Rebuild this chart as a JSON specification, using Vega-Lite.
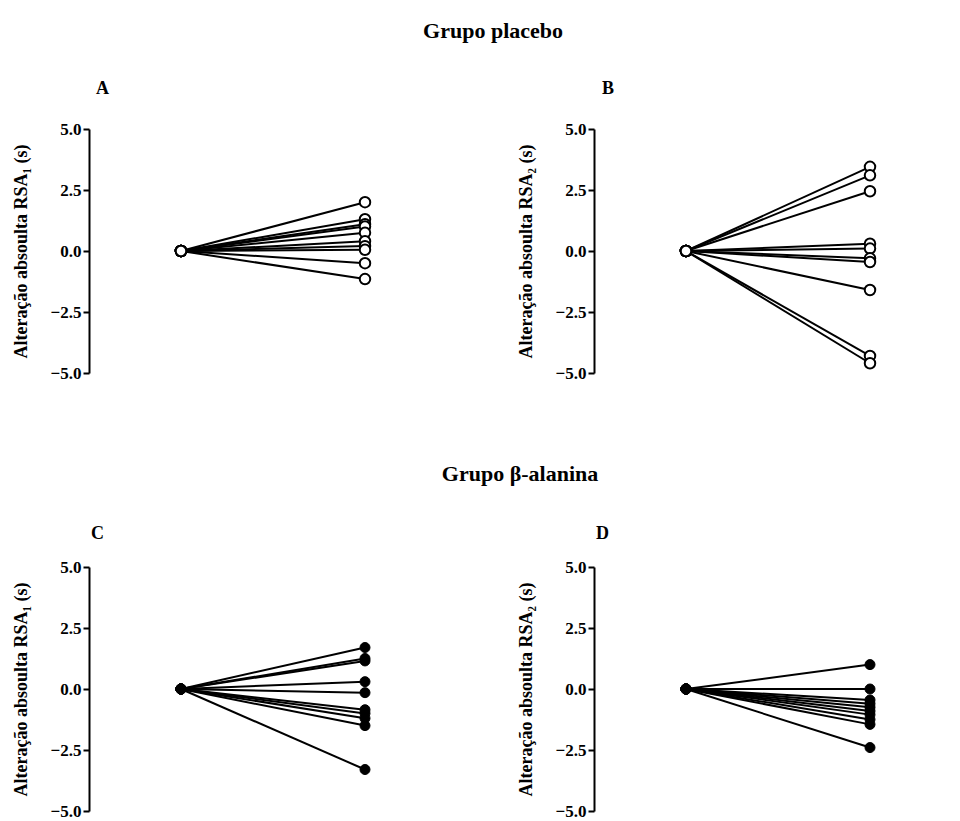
{
  "$schema": "https://vega.github.io/schema/vega-lite/v6.json",
  "background": "white",
  "padding": {"left": 12, "top": 20, "right": 0, "bottom": 0},
  "config": {
    "font": "Liberation Serif",
    "view": {"stroke": null},
    "concat": {"spacing": 60},
    "title": {"font": "Liberation Serif", "fontWeight": "bold", "color": "black"}
  },
  "datasets": {
    "d": [
      {"panel": "A", "id": 1, "t": 1, "v": 0}, {"panel": "A", "id": 1, "t": 3, "v": 2.0},
      {"panel": "A", "id": 2, "t": 1, "v": 0}, {"panel": "A", "id": 2, "t": 3, "v": 1.3},
      {"panel": "A", "id": 3, "t": 1, "v": 0}, {"panel": "A", "id": 3, "t": 3, "v": 1.1},
      {"panel": "A", "id": 4, "t": 1, "v": 0}, {"panel": "A", "id": 4, "t": 3, "v": 1.0},
      {"panel": "A", "id": 5, "t": 1, "v": 0}, {"panel": "A", "id": 5, "t": 3, "v": 0.75},
      {"panel": "A", "id": 6, "t": 1, "v": 0}, {"panel": "A", "id": 6, "t": 3, "v": 0.4},
      {"panel": "A", "id": 7, "t": 1, "v": 0}, {"panel": "A", "id": 7, "t": 3, "v": 0.2},
      {"panel": "A", "id": 8, "t": 1, "v": 0}, {"panel": "A", "id": 8, "t": 3, "v": 0.05},
      {"panel": "A", "id": 9, "t": 1, "v": 0}, {"panel": "A", "id": 9, "t": 3, "v": -0.5},
      {"panel": "A", "id": 10, "t": 1, "v": 0}, {"panel": "A", "id": 10, "t": 3, "v": -1.15},
      {"panel": "B", "id": 1, "t": 1, "v": 0}, {"panel": "B", "id": 1, "t": 3, "v": 3.45},
      {"panel": "B", "id": 2, "t": 1, "v": 0}, {"panel": "B", "id": 2, "t": 3, "v": 3.1},
      {"panel": "B", "id": 3, "t": 1, "v": 0}, {"panel": "B", "id": 3, "t": 3, "v": 2.45},
      {"panel": "B", "id": 4, "t": 1, "v": 0}, {"panel": "B", "id": 4, "t": 3, "v": 0.3},
      {"panel": "B", "id": 5, "t": 1, "v": 0}, {"panel": "B", "id": 5, "t": 3, "v": 0.1},
      {"panel": "B", "id": 6, "t": 1, "v": 0}, {"panel": "B", "id": 6, "t": 3, "v": -0.3},
      {"panel": "B", "id": 7, "t": 1, "v": 0}, {"panel": "B", "id": 7, "t": 3, "v": -0.45},
      {"panel": "B", "id": 8, "t": 1, "v": 0}, {"panel": "B", "id": 8, "t": 3, "v": -1.6},
      {"panel": "B", "id": 9, "t": 1, "v": 0}, {"panel": "B", "id": 9, "t": 3, "v": -4.3},
      {"panel": "B", "id": 10, "t": 1, "v": 0}, {"panel": "B", "id": 10, "t": 3, "v": -4.6},
      {"panel": "C", "id": 1, "t": 1, "v": 0}, {"panel": "C", "id": 1, "t": 3, "v": 1.7},
      {"panel": "C", "id": 2, "t": 1, "v": 0}, {"panel": "C", "id": 2, "t": 3, "v": 1.25},
      {"panel": "C", "id": 3, "t": 1, "v": 0}, {"panel": "C", "id": 3, "t": 3, "v": 1.15},
      {"panel": "C", "id": 4, "t": 1, "v": 0}, {"panel": "C", "id": 4, "t": 3, "v": 0.3},
      {"panel": "C", "id": 5, "t": 1, "v": 0}, {"panel": "C", "id": 5, "t": 3, "v": -0.15},
      {"panel": "C", "id": 6, "t": 1, "v": 0}, {"panel": "C", "id": 6, "t": 3, "v": -0.85},
      {"panel": "C", "id": 7, "t": 1, "v": 0}, {"panel": "C", "id": 7, "t": 3, "v": -1.0},
      {"panel": "C", "id": 8, "t": 1, "v": 0}, {"panel": "C", "id": 8, "t": 3, "v": -1.2},
      {"panel": "C", "id": 9, "t": 1, "v": 0}, {"panel": "C", "id": 9, "t": 3, "v": -1.5},
      {"panel": "C", "id": 10, "t": 1, "v": 0}, {"panel": "C", "id": 10, "t": 3, "v": -3.3},
      {"panel": "D", "id": 1, "t": 1, "v": 0}, {"panel": "D", "id": 1, "t": 3, "v": 1.0},
      {"panel": "D", "id": 2, "t": 1, "v": 0}, {"panel": "D", "id": 2, "t": 3, "v": 0.0},
      {"panel": "D", "id": 3, "t": 1, "v": 0}, {"panel": "D", "id": 3, "t": 3, "v": -0.45},
      {"panel": "D", "id": 4, "t": 1, "v": 0}, {"panel": "D", "id": 4, "t": 3, "v": -0.6},
      {"panel": "D", "id": 5, "t": 1, "v": 0}, {"panel": "D", "id": 5, "t": 3, "v": -0.75},
      {"panel": "D", "id": 6, "t": 1, "v": 0}, {"panel": "D", "id": 6, "t": 3, "v": -0.9},
      {"panel": "D", "id": 7, "t": 1, "v": 0}, {"panel": "D", "id": 7, "t": 3, "v": -1.05},
      {"panel": "D", "id": 8, "t": 1, "v": 0}, {"panel": "D", "id": 8, "t": 3, "v": -1.25},
      {"panel": "D", "id": 9, "t": 1, "v": 0}, {"panel": "D", "id": 9, "t": 3, "v": -1.45},
      {"panel": "D", "id": 10, "t": 1, "v": 0}, {"panel": "D", "id": 10, "t": 3, "v": -2.4}
    ]
  },
  "vconcat": [
    {
      "title": {"text": "Grupo placebo", "fontSize": 22, "anchor": "middle", "offset": 37, "dx": 6},
      "hconcat": [
        {
          "width": 368, "height": 244,
          "title": {"text": "A", "fontSize": 18, "anchor": "start", "frame": "group", "dx": 7, "offset": 22},
          "data": {"name": "d"},
          "transform": [{"filter": "datum.panel === 'A'"}],
          "layer": [
            {"mark": {"type": "rule", "strokeDash": [2, 2], "strokeWidth": 1, "color": "#333"}, "encoding": {"y": {"datum": 0, "type": "quantitative"}}},
            {"mark": {"type": "line", "color": "black", "strokeWidth": 2},
             "encoding": {"x": {"field": "t", "type": "quantitative"}, "y": {"field": "v", "type": "quantitative"}, "detail": {"field": "id"}}},
            {"mark": {"type": "point", "shape": "circle", "filled": true, "fill": "white", "stroke": "black", "strokeWidth": 2, "size": 110, "opacity": 1},
             "encoding": {"x": {"field": "t", "type": "quantitative"}, "y": {"field": "v", "type": "quantitative"}}}
          ],
          "encoding": {
            "x": {"field": "t", "type": "quantitative", "scale": {"domain": [0, 4], "nice": false}, "axis": null},
            "y": {"field": "v", "type": "quantitative", "scale": {"domain": [-5, 5], "nice": false},
              "axis": {"title": "Alteração absoulta RSA₁ (s)", "values": [-5, -2.5, 0, 2.5, 5], "format": ".1f", "grid": false,
                "domainColor": "black", "domainWidth": 2, "tickColor": "black", "tickWidth": 2, "tickSize": 6,
                "labelFont": "Liberation Serif", "labelFontWeight": "bold", "labelFontSize": 17, "labelColor": "black", "labelPadding": 2,
                "titleFont": "Liberation Serif", "titleFontWeight": "bold", "titleFontSize": 18, "titleColor": "black", "titlePadding": 20}}
          }
        },
        {
          "width": 368, "height": 244,
          "title": {"text": "B", "fontSize": 18, "anchor": "start", "frame": "group", "dx": 8, "offset": 22},
          "data": {"name": "d"},
          "transform": [{"filter": "datum.panel === 'B'"}],
          "layer": [
            {"mark": {"type": "rule", "strokeDash": [2, 2], "strokeWidth": 1, "color": "#333"}, "encoding": {"y": {"datum": 0, "type": "quantitative"}}},
            {"mark": {"type": "line", "color": "black", "strokeWidth": 2},
             "encoding": {"x": {"field": "t", "type": "quantitative"}, "y": {"field": "v", "type": "quantitative"}, "detail": {"field": "id"}}},
            {"mark": {"type": "point", "shape": "circle", "filled": true, "fill": "white", "stroke": "black", "strokeWidth": 2, "size": 110, "opacity": 1},
             "encoding": {"x": {"field": "t", "type": "quantitative"}, "y": {"field": "v", "type": "quantitative"}}}
          ],
          "encoding": {
            "x": {"field": "t", "type": "quantitative", "scale": {"domain": [0, 4], "nice": false}, "axis": null},
            "y": {"field": "v", "type": "quantitative", "scale": {"domain": [-5, 5], "nice": false},
              "axis": {"title": "Alteração absoulta RSA₂ (s)", "values": [-5, -2.5, 0, 2.5, 5], "format": ".1f", "grid": false,
                "domainColor": "black", "domainWidth": 2, "tickColor": "black", "tickWidth": 2, "tickSize": 6,
                "labelFont": "Liberation Serif", "labelFontWeight": "bold", "labelFontSize": 17, "labelColor": "black", "labelPadding": 2,
                "titleFont": "Liberation Serif", "titleFontWeight": "bold", "titleFontSize": 18, "titleColor": "black", "titlePadding": 20}}
          }
        }
      ]
    },
    {
      "title": {"text": "Grupo β-alanina", "fontSize": 22, "anchor": "middle", "offset": 39, "dx": 33},
      "hconcat": [
        {
          "width": 368, "height": 244,
          "title": {"text": "C", "fontSize": 18, "anchor": "start", "frame": "group", "dx": 2, "offset": 15},
          "data": {"name": "d"},
          "transform": [{"filter": "datum.panel === 'C'"}],
          "layer": [
            {"mark": {"type": "rule", "strokeDash": [2, 2], "strokeWidth": 1, "color": "#333"}, "encoding": {"y": {"datum": 0, "type": "quantitative"}}},
            {"mark": {"type": "line", "color": "black", "strokeWidth": 2},
             "encoding": {"x": {"field": "t", "type": "quantitative"}, "y": {"field": "v", "type": "quantitative"}, "detail": {"field": "id"}}},
            {"mark": {"type": "point", "shape": "circle", "filled": true, "fill": "black", "stroke": "black", "strokeWidth": 1, "size": 100, "opacity": 1},
             "encoding": {"x": {"field": "t", "type": "quantitative"}, "y": {"field": "v", "type": "quantitative"}}}
          ],
          "encoding": {
            "x": {"field": "t", "type": "quantitative", "scale": {"domain": [0, 4], "nice": false}, "axis": null},
            "y": {"field": "v", "type": "quantitative", "scale": {"domain": [-5, 5], "nice": false},
              "axis": {"title": "Alteração absoulta RSA₁ (s)", "values": [-5, -2.5, 0, 2.5, 5], "format": ".1f", "grid": false,
                "domainColor": "black", "domainWidth": 2, "tickColor": "black", "tickWidth": 2, "tickSize": 6,
                "labelFont": "Liberation Serif", "labelFontWeight": "bold", "labelFontSize": 17, "labelColor": "black", "labelPadding": 2,
                "titleFont": "Liberation Serif", "titleFontWeight": "bold", "titleFontSize": 18, "titleColor": "black", "titlePadding": 20}}
          }
        },
        {
          "width": 368, "height": 244,
          "title": {"text": "D", "fontSize": 18, "anchor": "start", "frame": "group", "dx": 2, "offset": 15},
          "data": {"name": "d"},
          "transform": [{"filter": "datum.panel === 'D'"}],
          "layer": [
            {"mark": {"type": "rule", "strokeDash": [2, 2], "strokeWidth": 1, "color": "#333"}, "encoding": {"y": {"datum": 0, "type": "quantitative"}}},
            {"mark": {"type": "line", "color": "black", "strokeWidth": 2},
             "encoding": {"x": {"field": "t", "type": "quantitative"}, "y": {"field": "v", "type": "quantitative"}, "detail": {"field": "id"}}},
            {"mark": {"type": "point", "shape": "circle", "filled": true, "fill": "black", "stroke": "black", "strokeWidth": 1, "size": 100, "opacity": 1},
             "encoding": {"x": {"field": "t", "type": "quantitative"}, "y": {"field": "v", "type": "quantitative"}}}
          ],
          "encoding": {
            "x": {"field": "t", "type": "quantitative", "scale": {"domain": [0, 4], "nice": false}, "axis": null},
            "y": {"field": "v", "type": "quantitative", "scale": {"domain": [-5, 5], "nice": false},
              "axis": {"title": "Alteração absoulta RSA₂ (s)", "values": [-5, -2.5, 0, 2.5, 5], "format": ".1f", "grid": false,
                "domainColor": "black", "domainWidth": 2, "tickColor": "black", "tickWidth": 2, "tickSize": 6,
                "labelFont": "Liberation Serif", "labelFontWeight": "bold", "labelFontSize": 17, "labelColor": "black", "labelPadding": 2,
                "titleFont": "Liberation Serif", "titleFontWeight": "bold", "titleFontSize": 18, "titleColor": "black", "titlePadding": 20}}
          }
        }
      ]
    }
  ],
  "spacing": 82
}
